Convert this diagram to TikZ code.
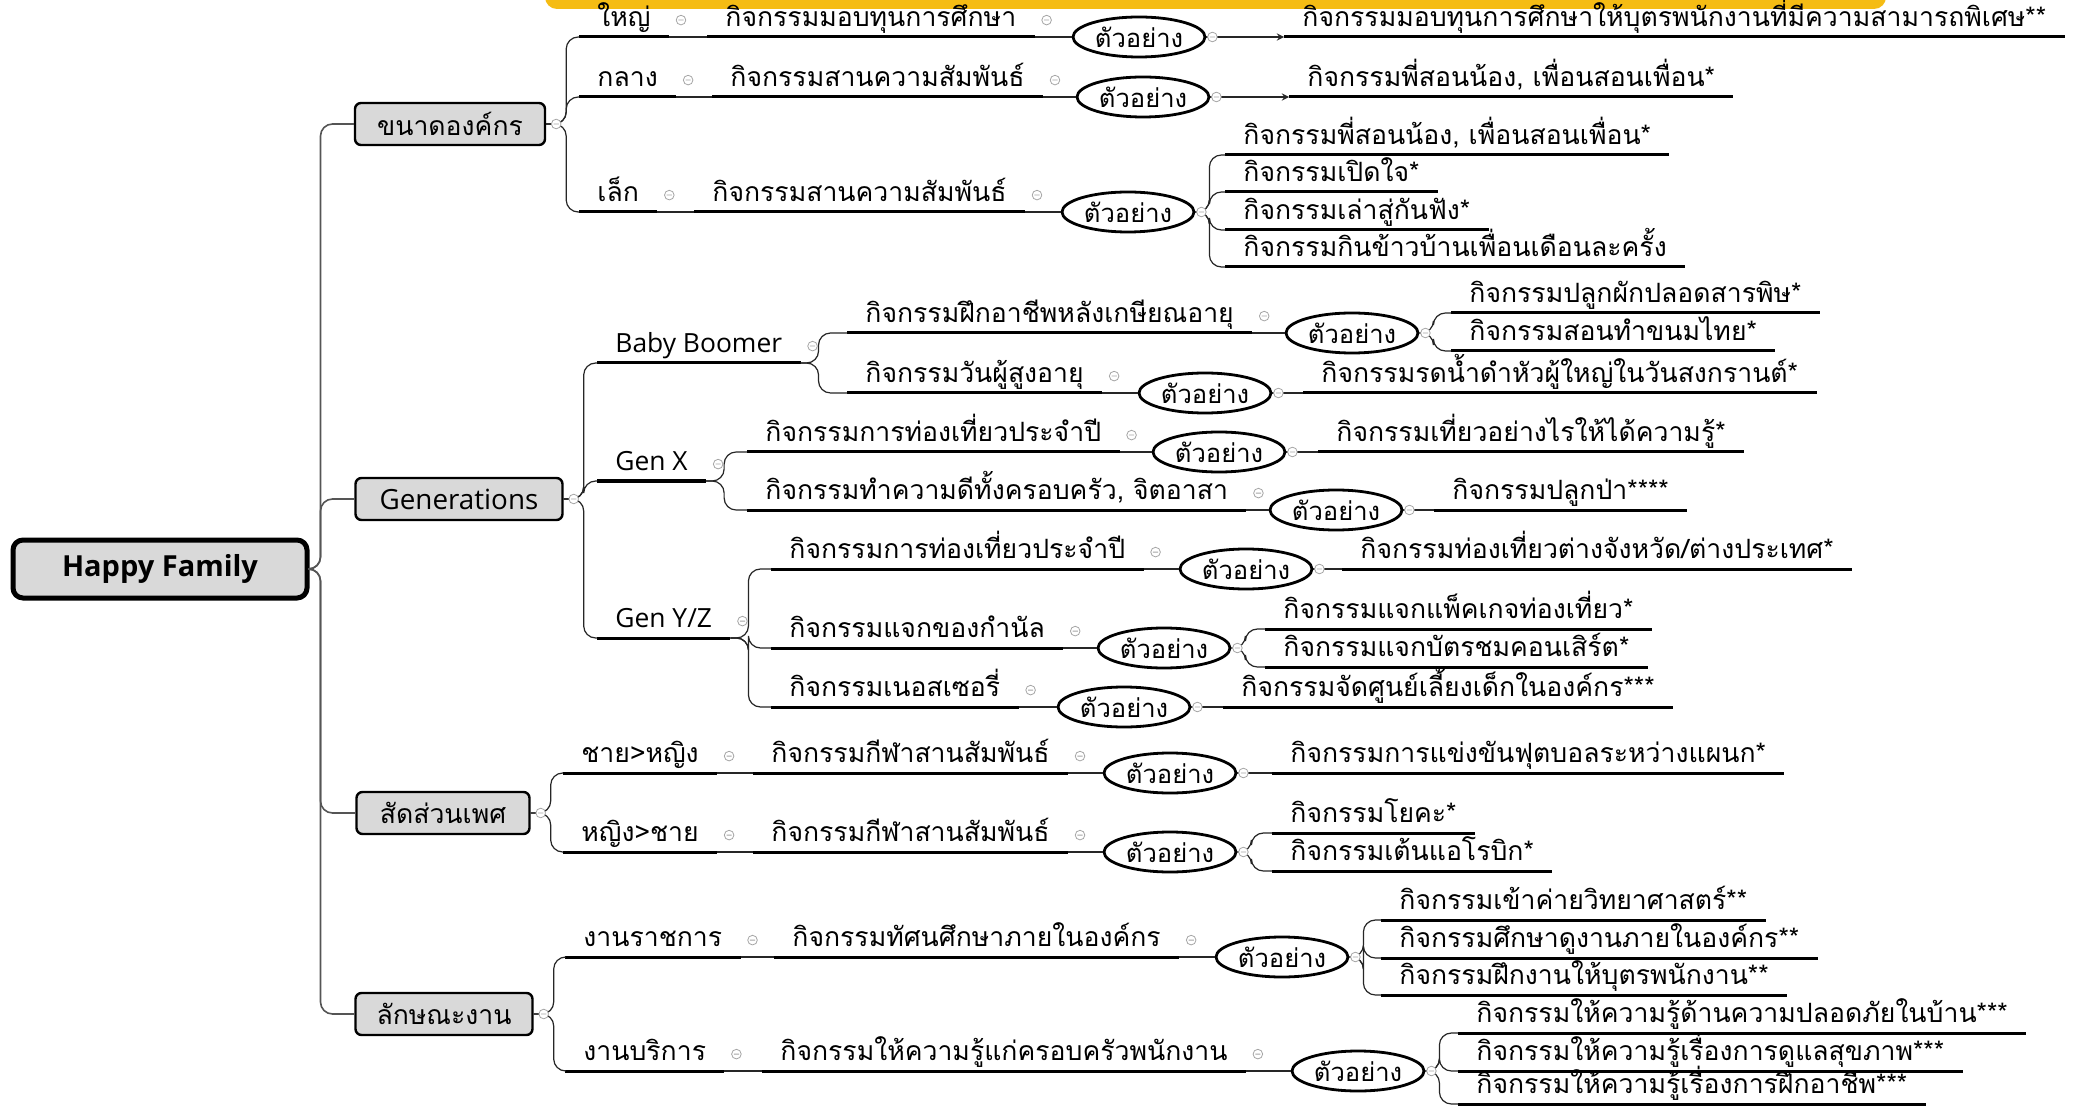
\documentclass[tikz,border=0pt]{standalone}
\usepackage{fontspec}
\usepackage{tikz}
\usetikzlibrary{shapes.geometric}
\usetikzlibrary{arrows}
\newfontfamily\thaifont[Script=Thai]{Loma}
\newfontfamily\uifont{Open Sans}
\definecolor{boxgray}{RGB}{217,217,217}
\definecolor{linegray}{RGB}{85,85,85}
\definecolor{foldgray}{RGB}{165,165,165}
\definecolor{banner}{RGB}{245,188,20}

\begin{document}
\begin{tikzpicture}[x=0.5pt, y=-0.5pt,
    root/.style = {
        draw, line width=2.5pt, rounded corners=5pt, fill=boxgray,
        minimum width=147pt, minimum height=29pt,
        font=\uifont\bfseries\fontsize{14.5}{16}\selectfont
    },
    cat/.style = {
        draw, line width=1.2pt, rounded corners=3pt, fill=boxgray,
        minimum height=21pt, inner xsep=6pt,
        font=\thaifont\fontsize{13.3}{15}\selectfont
    },
    uline/.style = {line width=1.5pt},
    topic/.style = {
        anchor=south west, inner xsep=9pt, inner ysep=2.5pt,
        text height=9pt, text depth=2.5pt,
        font=\thaifont\fontsize{13.3}{15}\selectfont,
        append after command={(\tikzlastnode.south west) edge[uline] (\tikzlastnode.south east)}
    },
    latin/.style = {font=\uifont\fontsize{13.2}{15}\selectfont},
    example/.style = {
        ellipse, draw, line width=1.4pt, fill=white,
        minimum width=66pt, minimum height=20pt, inner sep=0pt,
        font=\thaifont\fontsize{12.8}{14}\selectfont
    },
    link/.style = {line width=0.6pt, black!85},
    bracket/.style = {line width=0.6pt, black!85, rounded corners=6pt},
    trunk/.style = {line width=0.8pt, linegray, rounded corners=6pt},
    fold/.pic = {\draw[foldgray, fill=white, line width=0.4pt] (0,0) circle[radius=2.4pt] (-1.3pt,0) -- (1.3pt,0);}
]
    \fill[white] (0,0) rectangle (2075,1106);
    \useasboundingbox (0,0) rectangle (2075,1106);
    % banner cut off at the top
    \fill[banner, rounded corners=6pt] (545,-30) rectangle (1886,9);

    % centre and main branches
    \node[root] (hf) at (160,569) {Happy Family};
    \node[cat, minimum width=95pt] (size) at (450,124) {ขนาดองค์กร};
    \node[cat, minimum width=103.5pt, font=\uifont\fontsize{13.9}{15}\selectfont] (gen) at (459,499) {Generations};
    \node[cat, minimum width=86.5pt] (sex) at (443,813) {สัดส่วนเพศ};
    \node[cat, minimum width=88.5pt] (work) at (444,1014) {ลักษณะงาน};

    % organisation size
    \node[topic] (big) at (579,37) {ใหญ่};
    \node[topic] (bigact) at (707,37) {กิจกรรมมอบทุนการศึกษา};
    \node[example] (bigex) at (1139,37) {ตัวอย่าง};
    \node[topic] (bigl) at (1284,37) {กิจกรรมมอบทุนการศึกษาให้บุตรพนักงานที่มีความสามารถพิเศษ**};
    \node[topic] (mid) at (579,97) {กลาง};
    \node[topic] (midact) at (712,97) {กิจกรรมสานความสัมพันธ์};
    \node[example] (midex) at (1143,97) {ตัวอย่าง};
    \node[topic] (midl) at (1289,97) {กิจกรรมพี่สอนน้อง, เพื่อนสอนเพื่อน*};
    \node[topic] (small) at (579,212) {เล็ก};
    \node[topic] (smallact) at (694,212) {กิจกรรมสานความสัมพันธ์};
    \node[example] (smallex) at (1128,212) {ตัวอย่าง};
    \node[topic] (small1) at (1225,155) {กิจกรรมพี่สอนน้อง, เพื่อนสอนเพื่อน*};
    \node[topic] (small2) at (1225,192) {กิจกรรมเปิดใจ*};
    \node[topic] (small3) at (1225,230) {กิจกรรมเล่าสู่กันฟัง*};
    \node[topic] (small4) at (1225,267) {กิจกรรมกินข้าวบ้านเพื่อนเดือนละครั้ง};

    % generations
    \node[topic, latin] (bb) at (597,363) {Baby Boomer};
    \node[topic, latin] (gx) at (597,481) {Gen X};
    \node[topic, latin] (gy) at (597,638) {Gen Y/Z};
    \node[topic] (bb1) at (847,333) {กิจกรรมฝึกอาชีพหลังเกษียณอายุ};
    \node[example] (bb1ex) at (1352,333) {ตัวอย่าง};
    \node[topic] (bb1a) at (1451,313) {กิจกรรมปลูกผักปลอดสารพิษ*};
    \node[topic] (bb1b) at (1451,351) {กิจกรรมสอนทำขนมไทย*};
    \node[topic] (bb2) at (847,393) {กิจกรรมวันผู้สูงอายุ};
    \node[example] (bb2ex) at (1205,393) {ตัวอย่าง};
    \node[topic] (bb2l) at (1303,393) {กิจกรรมรดน้ำดำหัวผู้ใหญ่ในวันสงกรานต์*};
    \node[topic] (gx1) at (747,452) {กิจกรรมการท่องเที่ยวประจำปี};
    \node[example] (gx1ex) at (1219,452) {ตัวอย่าง};
    \node[topic] (gx1l) at (1318,452) {กิจกรรมเที่ยวอย่างไรให้ได้ความรู้*};
    \node[topic] (gx2) at (747,510) {กิจกรรมทำความดีทั้งครอบครัว, จิตอาสา};
    \node[example] (gx2ex) at (1336,510) {ตัวอย่าง};
    \node[topic] (gx2l) at (1434,510) {กิจกรรมปลูกป่า****};
    \node[topic] (gy1) at (771,569) {กิจกรรมการท่องเที่ยวประจำปี};
    \node[example] (gy1ex) at (1246,569) {ตัวอย่าง};
    \node[topic] (gy1l) at (1342,569) {กิจกรรมท่องเที่ยวต่างจังหวัด/ต่างประเทศ*};
    \node[topic] (gy2) at (771,648) {กิจกรรมแจกของกำนัล};
    \node[example] (gy2ex) at (1164,648) {ตัวอย่าง};
    \node[topic] (gy2a) at (1265,629) {กิจกรรมแจกแพ็คเกจท่องเที่ยว*};
    \node[topic] (gy2b) at (1265,667) {กิจกรรมแจกบัตรชมคอนเสิร์ต*};
    \node[topic] (gy3) at (771,707) {กิจกรรมเนอสเซอรี่};
    \node[example] (gy3ex) at (1124,707) {ตัวอย่าง};
    \node[topic] (gy3l) at (1223,707) {กิจกรรมจัดศูนย์เลี้ยงเด็กในองค์กร***};

    % gender ratio
    \node[topic] (mf) at (563,773) {ชาย>หญิง};
    \node[topic] (mfact) at (753,773) {กิจกรรมกีฬาสานสัมพันธ์};
    \node[example] (mfex) at (1170,773) {ตัวอย่าง};
    \node[topic] (mfl) at (1272,773) {กิจกรรมการแข่งขันฟุตบอลระหว่างแผนก*};
    \node[topic] (fm) at (563,852) {หญิง>ชาย};
    \node[topic] (fmact) at (753,852) {กิจกรรมกีฬาสานสัมพันธ์};
    \node[example] (fmex) at (1170,852) {ตัวอย่าง};
    \node[topic] (fm1) at (1272,833) {กิจกรรมโยคะ*};
    \node[topic] (fm2) at (1272,871) {กิจกรรมเต้นแอโรบิก*};

    % type of work
    \node[topic] (gov) at (565,957) {งานราชการ};
    \node[topic] (govact) at (774,957) {กิจกรรมทัศนศึกษาภายในองค์กร};
    \node[example] (govex) at (1282,957) {ตัวอย่าง};
    \node[topic] (gov1) at (1381,920) {กิจกรรมเข้าค่ายวิทยาศาสตร์**};
    \node[topic] (gov2) at (1381,958) {กิจกรรมศึกษาดูงานภายในองค์กร**};
    \node[topic] (gov3) at (1381,995) {กิจกรรมฝึกงานให้บุตรพนักงาน**};
    \node[topic] (svc) at (565,1071) {งานบริการ};
    \node[topic] (svcact) at (762,1071) {กิจกรรมให้ความรู้แก่ครอบครัวพนักงาน};
    \node[example] (svcex) at (1358,1071) {ตัวอย่าง};
    \node[topic] (svc1) at (1458,1033) {กิจกรรมให้ความรู้ด้านความปลอดภัยในบ้าน***};
    \node[topic] (svc2) at (1458,1071) {กิจกรรมให้ความรู้เรื่องการดูแลสุขภาพ***};
    \node[topic] (svc3) at (1458,1104) {กิจกรรมให้ความรู้เรื่องการฝึกอาชีพ***};

    % trunk
    \foreach \c in {size,gen,sex,work}
        \draw[trunk] (hf.east) -- ++(11,0) |- (\c.west);

    % brackets
    \foreach \p/\c in {size/big, size/mid, size/small, gen/bb, gen/gx, gen/gy,
                       sex/mf, sex/fm, work/gov, work/svc}
        \draw[bracket] (\p.east) -- ++(20,0) |- (\c.south west);
    \foreach \p/\c in {bb/bb1, bb/bb2, gx/gx1, gx/gx2, gy/gy1, gy/gy2, gy/gy3}
        \draw[bracket] (\p.south east) -- ++(18,0) |- (\c.south west);
    \foreach \p/\c in {smallex/small1, smallex/small2, smallex/small3, smallex/small4,
                       bb1ex/bb1a, bb1ex/bb1b, gy2ex/gy2a, gy2ex/gy2b, fmex/fm1, fmex/fm2,
                       govex/gov1, govex/gov2, govex/gov3, svcex/svc1, svcex/svc2, svcex/svc3}
        \draw[bracket] (\p.east) -- ++(14,0) |- (\c.south west);

    % links along a row
    \foreach \a/\b in {big/bigact, mid/midact, small/smallact, mf/mfact, fm/fmact,
                       gov/govact, svc/svcact}
        \draw[link] (\a.south east) -- (\b.south west);
    \foreach \a/\b in {bigact/bigex, midact/midex, smallact/smallex, bb1/bb1ex, bb2/bb2ex,
                       gx1/gx1ex, gx2/gx2ex, gy1/gy1ex, gy2/gy2ex, gy3/gy3ex,
                       mfact/mfex, fmact/fmex, govact/govex, svcact/svcex}
        \draw[link] (\a.south east) -- (\b.west);
    \foreach \a/\b in {bb2ex/bb2l, gx1ex/gx1l, gx2ex/gx2l, gy1ex/gy1l, gy3ex/gy3l, mfex/mfl}
        \draw[link] (\a.east) -- (\b.south west);
    \draw[link, ->, >=stealth] (bigex.east) -- (bigl.south west);
    \draw[link, ->, >=stealth] (midex.east) -- (midl.south west);

    % collapse marks
    \foreach \n in {size,gen,sex,work}
        \pic at ([xshift=5pt]\n.east) {fold};
    \foreach \n in {big,bigact,mid,midact,small,smallact,bb,gx,gy,bb1,bb2,gx1,gx2,
                    gy1,gy2,gy3,mf,mfact,fm,fmact,gov,govact,svc,svcact}
        \pic at ([xshift=6pt]\n.east) {fold};
    \foreach \n in {bigex,midex,smallex,bb1ex,bb2ex,gx1ex,gx2ex,gy1ex,gy2ex,gy3ex,
                    mfex,fmex,govex,svcex}
        \pic at ([xshift=3pt]\n.east) {fold};
\end{tikzpicture}
\end{document}
